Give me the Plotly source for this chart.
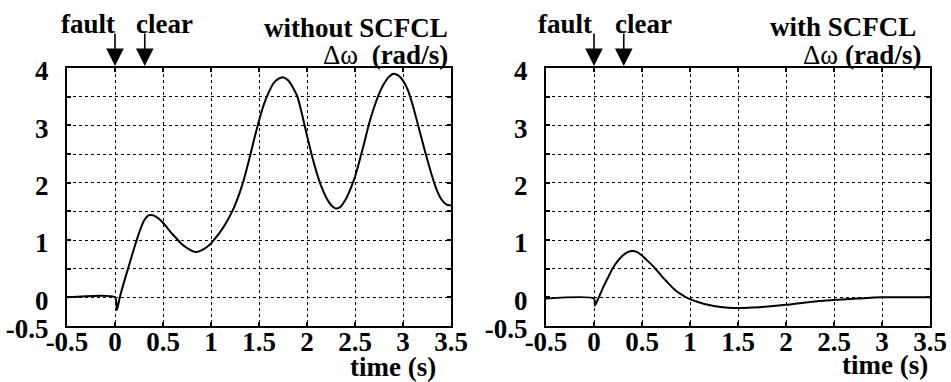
import plotly.graph_objects as go

# ---- data ----
t_without = [-0.5, 0.0, 0.02, 0.05, 0.10, 0.15, 0.20, 0.25, 0.30, 0.35, 0.40, 0.45, 0.50, 0.55, 0.60, 0.65,
             0.70, 0.75, 0.80, 0.85, 0.90, 0.95, 1.00, 1.05, 1.10, 1.15, 1.20, 1.25, 1.30, 1.35, 1.40,
             1.45, 1.50, 1.55, 1.60, 1.65, 1.70, 1.75, 1.80, 1.85, 1.90, 1.95, 2.00, 2.05, 2.10, 2.15,
             2.20, 2.25, 2.30, 2.35, 2.40, 2.45, 2.50, 2.55, 2.60, 2.65, 2.70, 2.75, 2.80, 2.85, 2.90,
             2.95, 3.00, 3.05, 3.10, 3.15, 3.20, 3.25, 3.30, 3.35, 3.40, 3.45, 3.50]
dw_without = [0.0, 0.0, -0.22, 0.0, 0.30, 0.58, 0.86, 1.12, 1.33, 1.43, 1.43, 1.38, 1.30, 1.20, 1.10, 1.01,
              0.92, 0.86, 0.81, 0.79, 0.82, 0.87, 0.94, 1.04, 1.15, 1.28, 1.43, 1.61, 1.83, 2.10, 2.42,
              2.76, 3.08, 3.36, 3.57, 3.73, 3.81, 3.84, 3.79, 3.67, 3.50, 3.18, 2.82, 2.48, 2.18, 1.93,
              1.74, 1.61, 1.55, 1.58, 1.70, 1.88, 2.10, 2.40, 2.72, 3.05, 3.32, 3.55, 3.72, 3.84, 3.90,
              3.87, 3.78, 3.62, 3.36, 3.05, 2.73, 2.42, 2.13, 1.88, 1.71, 1.62, 1.60]

t_with = [-0.5, 0.0, 0.01, 0.05, 0.10, 0.15, 0.20, 0.25, 0.30, 0.35, 0.40, 0.45, 0.50, 0.55, 0.60, 0.65,
          0.70, 0.75, 0.80, 0.85, 0.90, 0.95, 1.0, 1.1, 1.2, 1.3, 1.4, 1.5, 1.6, 1.75, 2.0, 2.25, 2.5,
          2.75, 3.0, 3.5]
dw_with = [-0.02, -0.02, -0.145, 0.0, 0.19, 0.36, 0.52, 0.64, 0.73, 0.79, 0.81, 0.79, 0.73, 0.65, 0.57, 0.48,
           0.38, 0.29, 0.20, 0.12, 0.06, 0.01, -0.03, -0.09, -0.135, -0.165, -0.18, -0.185, -0.18, -0.167,
           -0.13, -0.08, -0.046, -0.02, 0.0, 0.0]

x_ticks = [-0.5, 0, 0.5, 1, 1.5, 2, 2.5, 3, 3.5]
x_ticklabels = ["-0.5", "0", "0.5", "1", "1.5", "2", "2.5", "3", "3.5"]
y_ticks = [-0.5, 0, 0.5, 1, 1.5, 2, 2.5, 3, 3.5, 4]
y_ticklabels = ["-0.5", "0", "", "1", "", "2", "", "3", "", "4"]

fault_time = 0.0
clear_time = 0.31

W, H = 951, 382
FONT = "Times New Roman"

fig = go.Figure()
fig.add_trace(go.Scatter(x=t_without, y=dw_without, mode="lines", xaxis="x", yaxis="y",
                         line=dict(color="black", width=2, shape="spline", smoothing=0.6),
                         showlegend=False, hoverinfo="skip"))
fig.add_trace(go.Scatter(x=t_with, y=dw_with, mode="lines", xaxis="x2", yaxis="y2",
                         line=dict(color="black", width=2, shape="spline", smoothing=0.6),
                         showlegend=False, hoverinfo="skip"))

def xax(domain, anchor):
    labels = ["<b>%s</b>" % s for s in x_ticklabels]
    return dict(domain=domain, anchor=anchor, range=[-0.5, 3.5], tickvals=x_ticks, ticktext=labels,
                showgrid=True, gridcolor="black", gridwidth=1, griddash="dot",
                showline=True, linecolor="black", linewidth=2, mirror="ticks",
                ticks="inside", ticklen=4, tickwidth=1.5, tickcolor="black",
                tickfont=dict(family=FONT, size=27, color="black"),
                ticklabelstandoff=-9, zeroline=False, automargin=False, fixedrange=True)

def yax(domain, anchor):
    labels = ["<b>%s</b>" % s if s else "" for s in y_ticklabels]
    return dict(domain=domain, anchor=anchor, range=[-0.5, 4], tickvals=y_ticks, ticktext=labels,
                showgrid=True, gridcolor="black", gridwidth=1, griddash="dot",
                showline=True, linecolor="black", linewidth=2, mirror="ticks",
                ticks="inside", ticklen=4, tickwidth=1.5, tickcolor="black",
                tickfont=dict(family=FONT, size=27, color="black"),
                ticklabelstandoff=11, ticklabelshift=3, zeroline=False, automargin=False, fixedrange=True)

ydom = [(H - 326) / H, (H - 68) / H]
fig.update_layout(
    width=W, height=H, margin=dict(l=0, r=0, t=0, b=0),
    paper_bgcolor="white", plot_bgcolor="white",
    xaxis=xax([67 / W, 451 / W], "y"),
    yaxis=yax(ydom, "x"),
    xaxis2=xax([546 / W, 930 / W], "y2"),
    yaxis2=yax(ydom, "x2"),
)

ann = []
tip_y = (H - 66) / H
bf = dict(family=FONT, size=27, color="black")
for xr in ["x", "x2"]:
    for tt in [fault_time, clear_time]:
        ann.append(dict(xref=xr, yref="paper", x=tt, y=tip_y, ax=0, ay=-34, text="",
                        showarrow=True, arrowhead=2, arrowsize=2.2, arrowwidth=1.6, arrowcolor="black"))

def txt(x, y, s, xanchor="center", font=bf):
    ann.append(dict(xref="paper", yref="paper", x=x / W, y=(H - y) / H, text=s, showarrow=False,
                    xanchor=xanchor, yanchor="middle", font=font))

# left panel
txt(88, 24, "<b>fault</b>")
txt(164, 24, "<b>clear</b>")
txt(450, 28, "<b>without SCFCL</b>", "right")
txt(450, 55, "Δω\u00a0\u00a0<b>(rad/s)</b>", "right")
txt(393, 367, "<b>time (s)</b>", font=dict(family=FONT, size=27, color="black"))
# right panel
txt(565, 24, "<b>fault</b>")
txt(643, 24, "<b>clear</b>")
txt(918, 27, "<b>with SCFCL</b>", "right")
txt(923, 55, "Δω <b>(rad/s)</b>", "right")
txt(885, 365, "<b>time (s)</b>", font=dict(family=FONT, size=27, color="black"))

fig.update_layout(annotations=ann)
fig.write_html("out.html")
